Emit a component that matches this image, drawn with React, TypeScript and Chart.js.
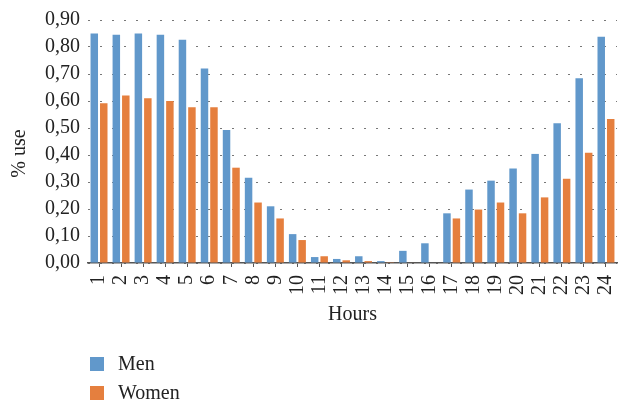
import React, { useEffect, useRef } from "react";
import { Chart, registerables } from "chart.js";

Chart.register(...registerables);

const hours = ["1","2","3","4","5","6","7","8","9","10","11","12","13","14","15","16","17","18","19","20","21","22","23","24"];
const men = [0.85,0.845,0.85,0.845,0.827,0.72,0.493,0.316,0.21,0.107,0.022,0.015,0.025,0.007,0.045,0.073,0.184,0.272,0.305,0.35,0.404,0.518,0.684,0.838];
const women = [0.592,0.62,0.61,0.60,0.577,0.577,0.353,0.224,0.165,0.085,0.025,0.01,0.007,0.003,0.002,0.0,0.165,0.198,0.224,0.184,0.243,0.312,0.408,0.533];
const seriesNames = ["Men", "Women"];
const colors = ["#6198CB", "#E57F3E"];
const yTitle = "% use";

const FONT = "'Liberation Serif', 'DejaVu Serif', serif";

const yTitlePlugin = {
  id: "yTitleShifted",
  afterDraw(chart: any) {
    const { ctx, chartArea } = chart;
    ctx.save();
    ctx.font = `20px ${FONT}`;
    ctx.fillStyle = "#222";
    ctx.textAlign = "center";
    ctx.textBaseline = "middle";
    ctx.translate(20, (chartArea.top + chartArea.bottom) / 2 + 12);
    ctx.rotate(-Math.PI / 2);
    ctx.fillText(yTitle, 0, 0);
    ctx.restore();
  },
};

export default function App() {
  const ref = useRef<HTMLCanvasElement | null>(null);
  useEffect(() => {
    document.body.style.margin = "0";
    const chart = new Chart(ref.current!, {
      type: "bar",
      data: {
        labels: hours,
        datasets: [
          { label: seriesNames[0], data: men, backgroundColor: colors[0], categoryPercentage: 0.86, barPercentage: 0.79 },
          { label: seriesNames[1], data: women, backgroundColor: colors[1], categoryPercentage: 0.86, barPercentage: 0.79 },
        ],
      },
      plugins: [yTitlePlugin],
      options: {
        animation: false,
        responsive: false,
        layout: { padding: { top: 8, right: 7, bottom: 80, left: 37 } },
        plugins: { legend: { display: false }, tooltip: { enabled: false } },
        scales: {
          x: {
            afterFit: (scale: any) => { scale.paddingLeft = 0; scale.paddingRight = 0; },
            grid: { display: true, drawOnChartArea: false, offset: false, drawTicks: true, tickLength: 4, color: "#555" },
            border: { display: true, color: "#555", width: 1.5 },
            ticks: { color: "#222", font: { family: FONT, size: 20 }, minRotation: 90, maxRotation: 90, padding: 8, autoSkip: false },
            title: { display: true, text: "Hours", color: "#222", font: { family: FONT, size: 20 }, padding: { top: 0, bottom: 0 } },
          },
          y: {
            min: 0,
            max: 0.9,
            ticks: {
              stepSize: 0.1,
              autoSkip: false,
              color: "#222",
              font: { family: FONT, size: 20 },
              padding: 8,
              callback: (v: any) => Number(v).toFixed(2).replace(".", ","),
            },
            grid: { color: "#777", drawTicks: false, lineWidth: 1 },
            border: { display: false, dash: [2, 10] },
            title: { display: false },
          },
        },
      },
    });
    return () => chart.destroy();
  }, []);
  const item = (i: number, top: number) => (
    <div style={{ position: "absolute", left: 90, top, display: "flex", alignItems: "center", fontFamily: FONT, fontSize: 20, color: "#222" }}>
      <span style={{ display: "inline-block", width: 14, height: 14, background: colors[i], marginRight: 14 }} />
      <span>{seriesNames[i]}</span>
    </div>
  );
  return (
    <div style={{ position: "relative", width: 624, height: 407 }}>
      <canvas ref={ref} width={624} height={407} />
      {item(0, 352)}
      {item(1, 381)}
    </div>
  );
}
